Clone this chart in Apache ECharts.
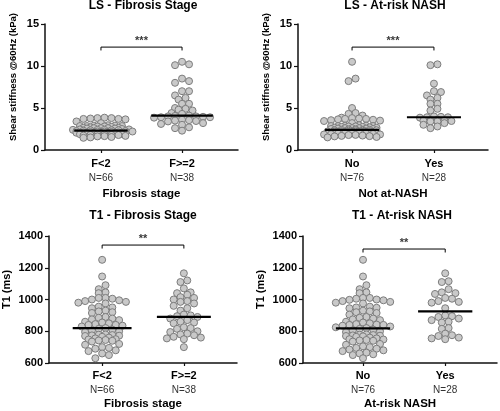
<!DOCTYPE html>
<html><head><meta charset="utf-8">
<script src="https://cdn.jsdelivr.net/npm/echarts@6/dist/echarts.min.js"></script>
<style>html,body{margin:0;padding:0;background:#fff}#c{width:500px;height:411px}</style>
</head><body><div id="c"></div>
<script>
// ---- data ----
const titles = ['LS - Fibrosis Stage', 'LS - At-risk NASH', 'T1 - Fibrosis Stage', 'T1 - At-risk NASH'];
const yNames = ['Shear stiffness @60Hz (kPa)', 'Shear stiffness @60Hz (kPa)', 'T1 (ms)', 'T1 (ms)'];
const xNames = ['Fibrosis stage', 'Not at-NASH', 'Fibrosis stage', 'At-risk NASH'];
const fibrosisCats = ['F<2', 'F>=2'];
const fibrosisN = ['N=66', 'N=38'];
const nashCats = ['No', 'Yes'];
const nashN = ['N=76', 'N=28'];
const yRanges = [[0, 15, 5], [0, 15, 5], [600, 1400, 200], [600, 1400, 200]];

const lsFibLow = [3.85, 3.8, 3.8, 3.75, 3.7, 3.7, 3.65, 3.4, 3.2,
  2.95, 2.9, 2.9, 2.85, 2.85, 2.85, 2.8, 2.8, 2.75,
  2.7, 2.65, 2.65, 2.6, 2.6, 2.6, 2.55, 2.55, 2.5,
  2.45, 2.45, 2.4, 2.4, 2.4, 2.35, 2.35, 2.35, 2.3,
  2.25, 2.25, 2.2, 2.2, 2.2, 2.15, 2.15, 2.1, 2.1,
  2.05, 2.05, 2.0, 2.0, 2.0, 1.95, 1.95, 1.9,
  1.88, 1.85, 1.85, 1.8, 1.8, 1.78, 1.72, 1.68, 1.65, 1.62, 1.55, 1.5, 1.45];
const lsFibHigh = [10.5, 10.2, 10.1, 8.5, 8.2, 8.0, 7.0, 7.0, 6.5, 6.2, 6.0, 5.5, 5.5, 5.0, 4.9, 4.8, 4.7, 4.4, 4.3,
  4.1, 4.05, 4.0, 4.0, 3.95, 3.9, 3.9, 3.85, 3.6, 3.55, 3.5, 3.45, 3.4, 3.2, 3.1, 3.0, 2.7, 2.6, 2.3];
const lsNashNo = [10.5, 8.5, 8.2, 5.0, 4.4, 4.3, 4.1,
  3.85, 3.8, 3.75, 3.7, 3.7, 3.65, 3.6, 3.55, 3.5, 3.45, 3.2,
  2.95, 2.9, 2.9, 2.85, 2.85, 2.85, 2.8, 2.8, 2.75, 2.75,
  2.7, 2.65, 2.65, 2.6, 2.6, 2.6, 2.55, 2.55, 2.5, 2.5,
  2.45, 2.45, 2.4, 2.4, 2.4, 2.35, 2.35, 2.35, 2.3, 2.3,
  2.25, 2.25, 2.2, 2.2, 2.2, 2.15, 2.15, 2.1, 2.1,
  2.05, 2.05, 2.0, 2.0, 2.0, 1.95, 1.95, 1.9,
  1.88, 1.85, 1.85, 1.8, 1.78, 1.72, 1.68, 1.65, 1.62, 1.55, 1.5];
const lsNashYes = [10.2, 10.1, 7.9, 7.0, 6.9, 6.5, 6.2, 6.0, 5.5, 5.5, 4.9, 4.7,
  4.0, 3.95, 3.9, 3.9, 3.85, 3.6, 3.55, 3.5, 3.5, 3.45, 3.4, 3.4, 3.2, 3.0, 2.8, 2.6];
const t1FibLow = [1250, 1145, 1090, 1065, 1045, 1040, 1010, 1010, 1005, 1000, 995, 990, 985, 980, 975, 955, 950, 945, 930, 925,
  920, 915, 890, 885, 880, 875, 870, 860, 855, 850, 845, 840, 840, 835, 830, 820, 815, 810, 805, 800,
  795, 780, 778, 776, 774, 772, 770, 765, 760, 755, 750, 748, 745, 742, 740, 735, 720, 715, 700, 695,
  690, 680, 675, 660, 650, 630];
const t1FibHigh = [1165, 1120, 1110, 1070, 1045, 1040, 1030, 1015, 1010, 1000, 990, 985, 975, 960, 945, 930, 905, 900, 895, 890,
  880, 870, 860, 855, 850, 825, 820, 815, 800, 795, 785, 780, 775, 765, 760, 755, 750, 700];
const t1NashNo = [1250, 1145, 1090, 1065, 1045, 1040, 1010, 1010, 1005, 1000, 998, 995, 990, 985, 980, 975, 955, 950, 948, 945,
  930, 925, 920, 915, 905, 890, 885, 880, 875, 870, 860, 855, 850, 845, 842, 840, 840, 835, 830, 825,
  820, 815, 810, 805, 800, 795, 780, 778, 776, 774, 772, 770, 768, 765, 760, 755, 750, 748, 745, 742,
  740, 735, 720, 715, 705, 700, 695, 690, 685, 680, 675, 665, 660, 655, 650, 630];
const t1NashYes = [1165, 1115, 1110, 1065, 1045, 1040, 1035, 1010, 1005, 990, 985, 980, 945, 900, 895, 890, 880, 870, 860, 855,
  820, 815, 785, 775, 770, 760, 755, 750];

const medians = [[2.3, 4.1], [2.4, 3.9], [820, 890], [818, 925]];
const sigLabels = ['***', '***', '**', '**'];
const sigLevels = [12.25, 12.25, 1343, 1318];
const sigDrops = [0.4, 0.4, 22, 22];

const groups = [[lsFibLow, lsFibHigh], [lsNashNo, lsNashYes], [t1FibLow, t1FibHigh], [t1NashNo, t1NashYes]];
const catNames = [fibrosisCats, nashCats, fibrosisCats, nashCats];
const catCounts = [fibrosisN, nashN, fibrosisN, nashN];

// ---- layout (pixels) ----
const layout = [
  { left: 45, top: 24, width: 193, height: 126, xmin: -0.69, xmax: 1.69, half: [0.33, 0.38], yGap: 27, yFont: 9.5, lh: 15, xGap: 38, tx: 143, ty: 0, rowPx: 5, maxN: 9, sp: 7 },
  { left: 298, top: 24, width: 190, height: 126, xmin: -0.66, xmax: 1.66, half: [0.33, 0.33], yGap: 27, yFont: 9.5, lh: 15, xGap: 38, tx: 395, ty: 0, rowPx: 5, maxN: 9, sp: 7 },
  { left: 49, top: 236, width: 188, height: 127, xmin: -0.65, xmax: 1.65, half: [0.36, 0.33], yGap: 37, yFont: 11, lh: 14, xGap: 35, tx: 143, ty: 210, rowPx: 5.5, maxN: 10, sp: 6.8 },
  { left: 303, top: 236, width: 194, height: 127, xmin: -0.73, xmax: 1.63, half: [0.33, 0.33], yGap: 37, yFont: 11, lh: 14, xGap: 35, tx: 402, ty: 210, rowPx: 5.5, maxN: 10, sp: 6.8 }
];
const FONT = 'Liberation Sans, Arial, sans-serif';
const D = 7;

// Row-based dot layout (Prism-style): values keep their true y, x is spread within rows.
function rowLayout(values, ppuX, ppuY, rowPx, maxN, sp) {
  const order = values.map((v, i) => i).sort((a, b) => values[b] - values[a]);
  const rows = [];
  let cur = null;
  for (const i of order) {
    const py = values[i] * ppuY;
    if (!cur || cur.start - py >= rowPx) { cur = { start: py, idx: [] }; rows.push(cur); }
    cur.idx.push(i);
  }
  const xs = new Array(values.length);
  rows.forEach(r => {
    const n = r.idx.length;
    const chunks = Math.ceil(n / maxN);
    const per = Math.ceil(n / chunks);
    let prevParity = null;
    for (let c = 0; c < chunks; c++) {
      const part = r.idx.slice(c * per, (c + 1) * per);
      const m = part.length;
      let shift = 0;
      if (prevParity !== null && prevParity === m % 2) shift = (c % 2 ? 0.5 : -0.5) * sp;
      prevParity = m % 2;
      const slots = [];
      for (let j = 0; j < m; j++) slots.push((j - (m - 1) / 2) * sp + shift);
      slots.sort((a, b) => Math.abs(a) - Math.abs(b) || b - a);
      part.forEach((idx, j) => { xs[idx] = slots[j] / ppuX; });
    }
  });
  return xs;
}

const grid = [], xAxis = [], yAxis = [], series = [], title = [];
layout.forEach((L, p) => {
  const [ymin, ymax, step] = yRanges[p];
  grid.push({ left: L.left, top: L.top, width: L.width, height: L.height, outerBoundsMode: 'none' });
  title.push({ text: titles[p], left: L.tx, top: L.ty, textAlign: 'center', padding: 0,
    textStyle: { fontFamily: FONT, fontSize: 12, fontWeight: 'bold', color: '#000' } });
  const cats = catNames[p], ns = catCounts[p];
  xAxis.push({
    type: 'value', gridIndex: p, min: L.xmin, max: L.xmax,
    axisLine: { show: true, onZero: false, lineStyle: { color: '#111', width: 1.5 } },
    axisTick: { show: true, customValues: [0, 1], length: 3, lineStyle: { color: '#111', width: 1.2 } },
    axisLabel: {
      customValues: [0, 1], margin: 6,
      formatter: v => { const i = Math.round(v); return '{a|' + cats[i] + '}\n{b|' + ns[i] + '}'; },
      rich: {
        a: { fontFamily: FONT, fontSize: 11, fontWeight: 'bold', color: '#000', lineHeight: L.lh },
        b: { fontFamily: FONT, fontSize: 10, color: '#333', lineHeight: L.lh }
      }
    },
    splitLine: { show: false },
    name: xNames[p], nameLocation: 'middle', nameGap: L.xGap,
    nameTextStyle: { fontFamily: FONT, fontSize: 11.5, fontWeight: 'bold', color: '#000' }
  });
  yAxis.push({
    type: 'value', gridIndex: p, min: ymin, max: ymax, interval: step,
    axisLine: { show: true, onZero: false, lineStyle: { color: '#111', width: 1.5 } },
    axisTick: { show: true, length: 4, lineStyle: { color: '#111', width: 1.2 } },
    axisLabel: { fontFamily: FONT, fontSize: 11, fontWeight: 'bold', color: '#000', margin: 6, formatter: v => String(v) },
    splitLine: { show: false },
    name: yNames[p], nameLocation: 'middle', nameGap: L.yGap,
    nameTextStyle: { fontFamily: FONT, fontSize: L.yFont, fontWeight: 'bold', color: '#000', padding: [0, 0, 0, 20] }
  });
  const ppuX = L.width / (L.xmax - L.xmin);
  const ppuY = L.height / (ymax - ymin);
  groups[p].forEach((vals, g) => {
    const offs = rowLayout(vals, ppuX, ppuY, L.rowPx, L.maxN, L.sp);
    series.push({
      type: 'scatter', xAxisIndex: p, yAxisIndex: p, symbolSize: D, silent: true,
      itemStyle: { color: '#c9c9c9', borderColor: '#7d7d7d', borderWidth: 1, opacity: 1 },
      data: vals.map((v, i) => [g + offs[i], v])
    });
    const m = medians[p][g], h = L.half[g];
    series.push({
      type: 'line', xAxisIndex: p, yAxisIndex: p, symbol: 'none', silent: true, z: 5,
      lineStyle: { color: '#000', width: 2.2 },
      data: [[g - h, m], [g + h, m]]
    });
  });
  const s = sigLevels[p], dr = sigDrops[p];
  series.push({
    type: 'line', xAxisIndex: p, yAxisIndex: p, symbol: 'none', silent: true,
    lineStyle: { color: '#000', width: 1 },
    data: [[0, s - dr], [0, s], [1, s], [1, s - dr]]
  });
  series.push({
    type: 'scatter', xAxisIndex: p, yAxisIndex: p, symbolSize: 0, silent: true,
    label: { show: true, position: 'top', distance: 1, formatter: sigLabels[p],
      fontFamily: FONT, fontSize: 11, fontWeight: 'bold', color: '#000' },
    data: [[0.5, s]]
  });
});

const chart = echarts.init(document.getElementById('c'), null, { renderer: 'canvas' });
chart.setOption({ animation: false, backgroundColor: '#fff', title, grid, xAxis, yAxis, series });
</script>
</body></html>
